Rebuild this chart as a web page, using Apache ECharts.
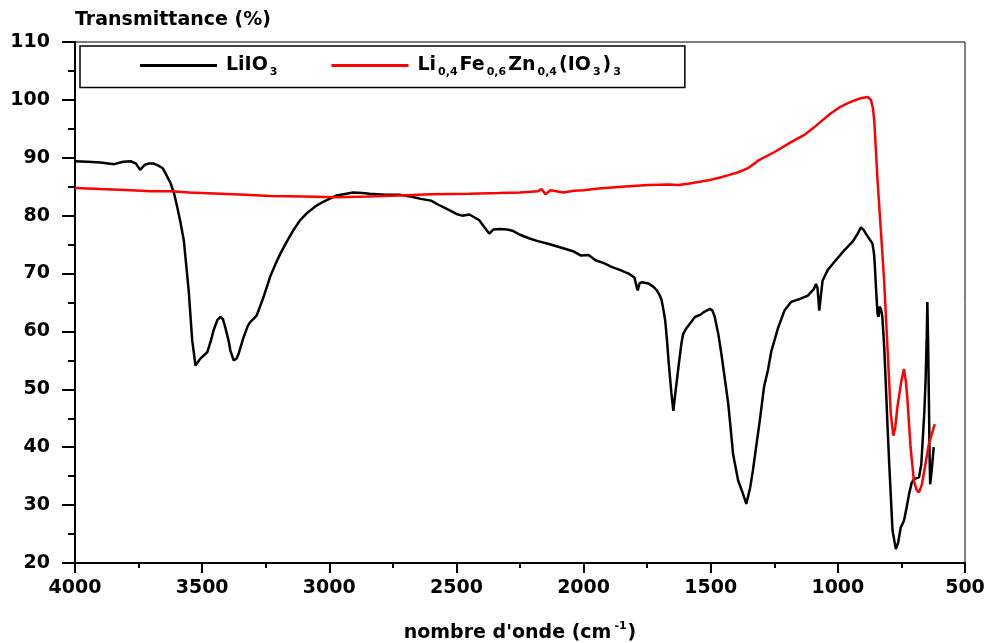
<!DOCTYPE html>
<html>
<head>
<meta charset="utf-8">
<script src="https://cdn.jsdelivr.net/npm/echarts@6/dist/echarts.min.js"></script>
<style>
  html, body { margin: 0; padding: 0; background: #fff; }
  #main { width: 984px; height: 643px; }
</style>
</head>
<body>
<div id="main"></div>
<script>
// IR spectra, wavenumber (cm-1) vs transmittance (%)
var seriesNames = ["LiIO3", "Li0,4Fe0,6Zn0,4(IO3)3"];
var xTicks = [4000, 3500, 3000, 2500, 2000, 1500, 1000, 500];
var yTicks = [20, 30, 40, 50, 60, 70, 80, 90, 100, 110];

var liioWave = [
    4000, 3950, 3900, 3846, 3810, 3781, 3760, 3744, 3725, 3709, 3690, 3674, 3655, 3644, 3624, 3610,
    3598, 3585, 3572, 3553, 3539, 3526, 3515, 3507, 3480, 3465, 3455, 3440, 3428, 3418, 3409, 3395,
    3389, 3376, 3365, 3357, 3337, 3320, 3311, 3295, 3285, 3259, 3233, 3210, 3193, 3165, 3141, 3115,
    3089, 3055, 3024, 2971, 2906, 2870, 2841, 2780, 2724, 2680, 2640, 2600, 2567, 2530, 2500, 2477,
    2449, 2425, 2410, 2390, 2371, 2355, 2332, 2300, 2280, 2250, 2215, 2180, 2136, 2090, 2038, 2010,
    1980, 1953, 1920, 1888, 1855, 1823, 1800, 1790, 1787, 1780, 1771, 1745, 1725, 1712, 1700, 1693,
    1685, 1679, 1672, 1666, 1655, 1647, 1640, 1627, 1615, 1608, 1595, 1588, 1562, 1540, 1529, 1503,
    1493, 1484, 1470, 1458, 1445, 1431, 1420, 1412, 1392, 1375, 1360, 1345, 1334, 1320, 1307, 1290,
    1275, 1262, 1236, 1210, 1184, 1144, 1118, 1095, 1086, 1080, 1073, 1066, 1060, 1040, 1014, 975,
    942, 922, 909, 898, 890, 864, 858, 855, 850, 844, 840, 836, 830, 825, 818, 812,
    805, 798, 785, 772, 763, 753, 740, 730, 720, 710, 701, 681, 672, 668, 660, 655,
    650, 648, 645, 642, 639, 637, 631, 623
];
var liioTrans = [
    89.4, 89.3, 89.2, 88.9, 89.3, 89.4, 89.0, 87.9, 88.8, 89.0, 89.0, 88.7, 88.2, 87.3, 85.6, 83.8,
    81.5, 78.8, 75.7, 67.1, 58.4, 54.1, 54.8, 55.3, 56.4, 58.5, 60.2, 62.0, 62.5, 62.1, 60.7, 58.2,
    56.7, 55.0, 55.3, 56.1, 59.0, 61.0, 61.6, 62.3, 62.8, 65.9, 69.4, 71.8, 73.4, 75.7, 77.5, 79.2,
    80.4, 81.6, 82.4, 83.5, 84.0, 83.9, 83.8, 83.6, 83.6, 83.3, 82.9, 82.6, 81.8, 81.0, 80.3, 80.0,
    80.2, 79.6, 79.2, 78.0, 76.9, 77.6, 77.7, 77.6, 77.4, 76.7, 76.1, 75.6, 75.1, 74.5, 73.8, 73.1,
    73.2, 72.3, 71.8, 71.1, 70.6, 70.0, 69.3, 67.5, 67.1, 68.3, 68.5, 68.3, 67.7, 67.1, 66.2, 65.4,
    63.5, 61.9, 58.5, 55.0, 49.5, 46.3, 49.0, 53.8, 58.0, 59.6, 60.6, 61.0, 62.5, 62.9, 63.3, 63.9,
    63.6, 62.5, 59.5, 56.1, 52.0, 47.5, 42.5, 38.8, 34.2, 32.2, 30.2, 33.0, 36.0, 40.5, 44.6, 50.5,
    53.3, 56.5, 60.5, 63.6, 65.1, 65.7, 66.2, 67.3, 68.2, 67.5, 63.6, 66.5, 68.8, 70.6, 72.0, 74.0,
    75.5, 76.9, 78.0, 77.5, 76.9, 75.2, 73.5, 71.7, 67.5, 63.1, 62.5, 64.3, 63.8, 62.5, 57.5, 51.5,
    44.0, 37.1, 25.6, 22.4, 23.5, 26.1, 27.3, 29.5, 31.9, 33.8, 34.5, 34.8, 37.0, 40.0, 46.0, 51.5,
    60.0, 65.1, 58.0, 48.0, 38.0, 33.6, 36.0, 40.0
];

var dopedWave = [
    4000, 3900, 3780, 3700, 3624, 3550, 3428, 3330, 3233, 3100, 2971, 2850, 2724, 2600, 2450, 2332,
    2250, 2180, 2165, 2150, 2130, 2080, 2038, 2000, 1940, 1850, 1745, 1666, 1627, 1590, 1549, 1510,
    1470, 1430, 1392, 1353, 1314, 1249, 1184, 1130, 1092, 1060, 1027, 990, 962, 935, 909, 883,
    870, 862, 857, 850, 844, 831, 818, 805, 792, 782, 774, 766, 750, 740, 733, 727,
    714, 701, 690, 681, 670, 662, 642, 619
];
var dopedTrans = [
    84.8, 84.6, 84.4, 84.2, 84.2, 84.0, 83.8, 83.6, 83.4, 83.3, 83.2, 83.3, 83.5, 83.7, 83.8, 83.9,
    84.0, 84.2, 84.6, 83.7, 84.4, 84.0, 84.3, 84.4, 84.7, 85.0, 85.3, 85.4, 85.3, 85.5, 85.8, 86.1,
    86.5, 87.0, 87.5, 88.2, 89.5, 91.0, 92.7, 94.0, 95.3, 96.5, 97.7, 98.8, 99.4, 99.9, 100.3, 100.5,
    100.0, 98.5, 96.5, 91.0, 86.1, 77.5, 68.8, 57.3, 45.8, 42.0, 43.5, 46.9, 51.5, 53.5, 51.5, 48.6,
    40.0, 34.2, 32.6, 32.2, 33.5, 35.4, 40.6, 44.0
];

function pairs(xs, ys) {
    var out = [];
    for (var i = 0; i < xs.length; i++) {
        out.push([xs[i], ys[i]]);
    }
    return out;
}

var font = "DejaVu Sans";
var boldText = { fontFamily: font, fontWeight: "bold", fontSize: 19, color: "#000" };

var myChart = echarts.init(document.getElementById("main"), null, { renderer: "canvas" });
var option = {
    backgroundColor: "#fff",
    animation: false,
    grid: {
        left: 75,
        right: 19,
        top: 42,
        bottom: 80,
        outerBoundsMode: "none",
        containLabel: false,
        show: true,
        borderColor: "#000",
        borderWidth: 1,
    },
    legend: {
        data: seriesNames,
        left: 80,
        top: 46,
        padding: [10, 62, 10, 60],
        itemGap: 52,
        itemWidth: 77,
        itemHeight: 3,
        icon: "rect",
        borderColor: "#000",
        borderWidth: 1.5,
        formatter: function (name) {
            if (name === seriesNames[0]) {
                return "{b|LiIO}{s|3}";
            }
            return "{b|Li}{s|0,4}{b|Fe}{s|0,6}{b|Zn}{s|0,4}{b|(IO}{s|3}{b|)}{s|3}";
        },
        textStyle: {
            fontFamily: font,
            fontWeight: "bold",
            fontSize: 19,
            color: "#000",
            padding: [0, 0, 0, 4],
            rich: {
                b: { fontFamily: font, fontWeight: "bold", fontSize: 19, lineHeight: 24, color: "#000" },
                s: { fontFamily: font, fontWeight: "bold", fontSize: 11, lineHeight: 10, verticalAlign: "bottom", color: "#000", padding: [0, 2, 0, 2] },
            },
        },
    },
    xAxis: {
        type: "value",
        inverse: true,
        min: 500,
        max: 4000,
        interval: 500,
        name: "{b|nombre d'onde (cm}{p|-1}{b|)}",
        nameLocation: "middle",
        nameGap: 58,
        nameTextStyle: {
            rich: {
                b: { fontFamily: font, fontWeight: "bold", fontSize: 19, color: "#000", lineHeight: 24 },
                p: { fontFamily: font, fontWeight: "bold", fontSize: 11, color: "#000", lineHeight: 11, verticalAlign: "top", padding: [0, 1, 0, 3] },
            },
        },
        axisLine: { onZero: false, lineStyle: { color: "#000", width: 2 } },
        axisTick: { show: true, inside: false, length: 10, lineStyle: { color: "#000", width: 2 } },
        minorTick: { show: true, splitNumber: 2, length: 5, lineStyle: { color: "#000", width: 2 } },
        axisLabel: Object.assign({
            margin: 16,
            formatter: function (v) { return String(v); },
        }, boldText),
        splitLine: { show: false },
    },
    yAxis: {
        type: "value",
        min: 20,
        max: 110,
        interval: 10,
        name: "Transmittance (%)",
        nameLocation: "end",
        nameGap: 12,
        nameTextStyle: { align: "left", fontSize: 19, fontFamily: font, fontWeight: "bold", color: "#000" },
        axisLine: { onZero: false, lineStyle: { color: "#000", width: 2 } },
        axisTick: { show: true, inside: false, length: 13, lineStyle: { color: "#000", width: 2 } },
        minorTick: { show: true, splitNumber: 2, length: 7, lineStyle: { color: "#000", width: 2 } },
        axisLabel: Object.assign({ margin: 25 }, boldText),
        splitLine: { show: false },
    },
    series: [
        {
            name: seriesNames[0],
            type: "line",
            showSymbol: false,
            smooth: false,
            color: "#000",
            lineStyle: { color: "#000", width: 2.5 },
            data: pairs(liioWave, liioTrans),
        },
        {
            name: seriesNames[1],
            type: "line",
            showSymbol: false,
            smooth: false,
            color: "#ff0000",
            lineStyle: { color: "#ff0000", width: 2.5 },
            data: pairs(dopedWave, dopedTrans),
        },
    ],
};
option && myChart.setOption(option);
</script>
</body>
</html>
